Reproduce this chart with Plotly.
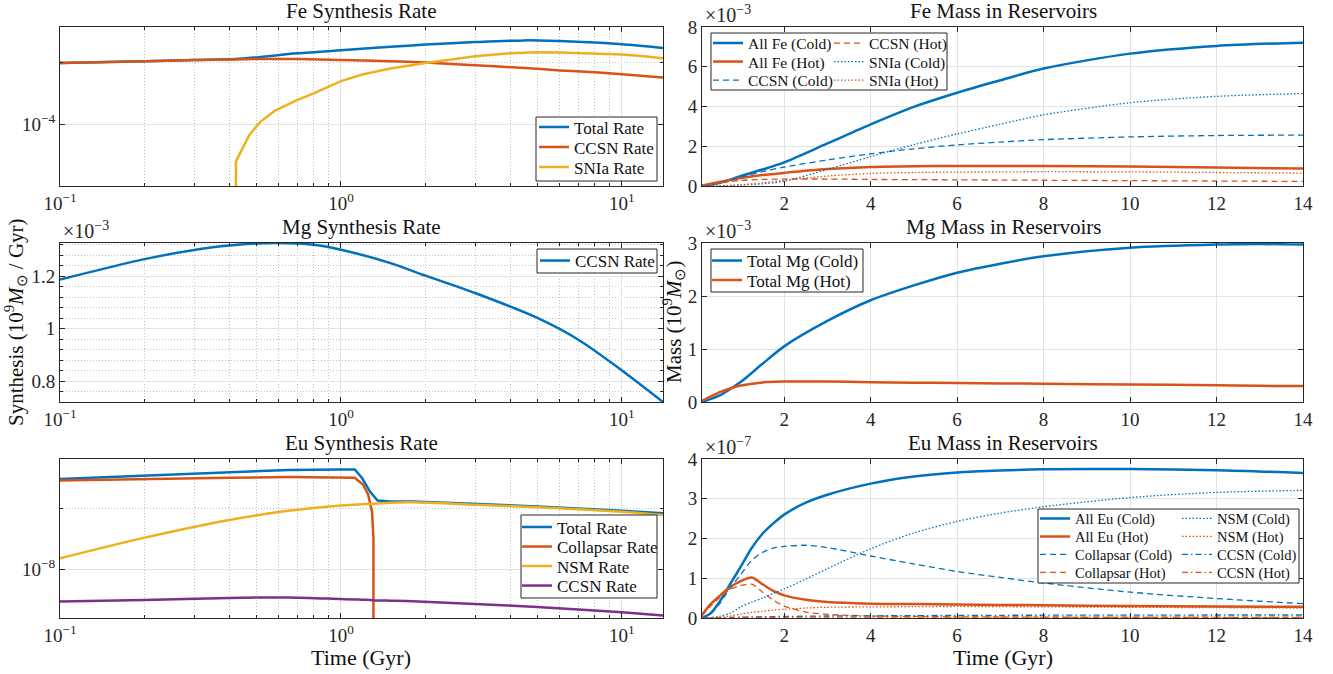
import math
import plotly.graph_objects as go

# ---------------- data ----------------
# Fe synthesis rate (10^9 Msun / Gyr), log-log panel
fe_rate_t = [0.1, 0.2, 0.3, 0.42, 0.5, 0.7, 1.0, 1.5, 2, 3, 4.5, 6, 8, 10, 14]
fe_rate_total = [2.0e-4, 2.04e-4, 2.07e-4, 2.09e-4, 2.13e-4, 2.23e-4, 2.31e-4, 2.40e-4,
                 2.46e-4, 2.53e-4, 2.58e-4, 2.56e-4, 2.52e-4, 2.47e-4, 2.37e-4]
fe_rate_ccsn = [2.0e-4, 2.04e-4, 2.07e-4, 2.08e-4, 2.09e-4, 2.09e-4, 2.07e-4, 2.04e-4,
                2.01e-4, 1.95e-4, 1.89e-4, 1.84e-4, 1.80e-4, 1.76e-4, 1.70e-4]
fe_snia_t = [0.421, 0.423, 0.472, 0.516, 0.583, 0.7, 0.8, 1.0, 1.2, 1.5, 2, 2.5, 3, 4, 5, 6,
             8, 10, 12, 14]
fe_rate_snia = [1e-7, 6.6e-5, 8.9e-5, 1.03e-4, 1.17e-4, 1.32e-4, 1.42e-4, 1.63e-4, 1.76e-4,
                1.88e-4, 2.0e-4, 2.09e-4, 2.16e-4, 2.23e-4, 2.26e-4, 2.25e-4, 2.23e-4,
                2.20e-4, 2.16e-4, 2.11e-4]

# Mg synthesis rate (units of 1e-3)
mg_rate_t = [0.1, 0.2, 0.3, 0.4, 0.58, 0.8, 1.0, 1.5, 2, 3, 5, 7, 10, 14]
mg_rate_ccsn_e3 = [1.187, 1.265, 1.300, 1.317, 1.3265, 1.320, 1.301, 1.250, 1.202, 1.136,
                   1.041, 0.958, 0.841, 0.7208]

# Eu synthesis rate
eu_rate_t = [0.1, 0.2, 0.4, 0.65, 1.0, 1.12, 1.19, 1.27, 1.35, 1.5, 1.8, 3, 5, 10, 14]
eu_rate_total = [2.79e-8, 2.90e-8, 3.02e-8, 3.09e-8, 3.11e-8, 3.11e-8, 2.81e-8, 2.41e-8,
                 2.18e-8, 2.16e-8, 2.16e-8, 2.10e-8, 2.04e-8, 1.94e-8, 1.89e-8]
eu_coll_t = [0.1, 0.2, 0.4, 0.65, 1.0, 1.12, 1.2, 1.25, 1.29, 1.305, 1.306]
eu_rate_coll = [2.74e-8, 2.79e-8, 2.83e-8, 2.85e-8, 2.84e-8, 2.83e-8, 2.61e-8, 2.33e-8,
                1.92e-8, 1.42e-8, 1e-12]
eu_rate_nsm = [1.13e-8, 1.43e-8, 1.75e-8, 1.94e-8, 2.06e-8, 2.08e-8, 2.09e-8, 2.10e-8,
               2.11e-8, 2.13e-8, 2.14e-8, 2.08e-8, 2.02e-8, 1.92e-8, 1.85e-8]
eu_rate_ccsn = [6.92e-9, 7.03e-9, 7.20e-9, 7.24e-9, 7.11e-9, 7.08e-9, 7.06e-9, 7.03e-9,
                7.00e-9, 6.98e-9, 6.94e-9, 6.72e-9, 6.50e-9, 6.11e-9, 5.90e-9]

# Fe mass in reservoirs (units of 1e-3)
fe_mass_t = [0.1, 0.5, 1, 1.5, 2, 3, 4, 5, 6, 7, 8, 10, 12, 14]
fe_all_cold = [0, 0.15, 0.5, 0.83, 1.19, 2.14, 3.10, 3.98, 4.69, 5.32, 5.91, 6.66, 7.05, 7.21]
fe_all_hot = [0.03, 0.2, 0.4, 0.55, 0.66, 0.85, 0.96, 1.0, 1.01, 1.01, 1.01, 0.98, 0.93, 0.88]
fe_ccsn_cold = [0, 0.15, 0.45, 0.72, 0.95, 1.31, 1.62, 1.87, 2.07, 2.21, 2.33, 2.47, 2.54, 2.56]
fe_ccsn_hot = [0.02, 0.15, 0.28, 0.33, 0.35, 0.35, 0.33, 0.32, 0.31, 0.30, 0.29, 0.27, 0.25, 0.23]
fe_snia_cold = [0, 0, 0.05, 0.11, 0.24, 0.83, 1.48, 2.08, 2.62, 3.11, 3.58, 4.19, 4.51, 4.65]
fe_snia_hot = [0, 0, 0.06, 0.16, 0.28, 0.50, 0.63, 0.68, 0.70, 0.71, 0.72, 0.71, 0.68, 0.65]

# Mg mass in reservoirs (units of 1e-3)
mg_mass_t = [0.1, 0.5, 0.8, 1, 1.5, 2, 3, 4, 5, 6, 7, 8, 10, 12, 13, 14]
mg_cold = [0, 0.12, 0.27, 0.38, 0.72, 1.05, 1.53, 1.92, 2.20, 2.44, 2.61, 2.75, 2.91, 2.97,
           2.98, 2.97]
mg_hot = [0.02, 0.18, 0.27, 0.31, 0.37, 0.385, 0.385, 0.375, 0.365, 0.36, 0.35, 0.345, 0.33,
          0.315, 0.305, 0.30]

# Eu mass in reservoirs (units of 1e-7)
eu_mass_t = [0.1, 0.3, 0.5, 0.75, 1, 1.25, 1.5, 1.75, 2, 2.5, 3, 4, 5, 6, 7, 8, 10, 12, 14]
eu_all_cold = [0, 0.12, 0.40, 0.85, 1.30, 1.76, 2.12, 2.38, 2.60, 2.90, 3.10, 3.38, 3.56, 3.66,
               3.71, 3.74, 3.75, 3.72, 3.65]
eu_all_hot = [0.08, 0.35, 0.55, 0.78, 0.93, 1.02, 0.85, 0.68, 0.57, 0.46, 0.40, 0.36, 0.35,
              0.34, 0.33, 0.32, 0.30, 0.29, 0.28]
eu_coll_cold = [0, 0.10, 0.35, 0.75, 1.10, 1.45, 1.65, 1.76, 1.80, 1.83, 1.77, 1.56, 1.36, 1.17,
                1.02, 0.88, 0.65, 0.49, 0.36]
eu_coll_hot = [0.05, 0.30, 0.50, 0.72, 0.82, 0.85, 0.65, 0.45, 0.30, 0.15, 0.09, 0.05, 0.04,
               0.03, 0.025, 0.02, 0.015, 0.012, 0.01]
eu_nsm_cold = [0, 0.01, 0.04, 0.12, 0.28, 0.40, 0.50, 0.62, 0.73, 0.98, 1.24, 1.74, 2.14, 2.43,
               2.64, 2.80, 3.03, 3.16, 3.21]
eu_nsm_hot = [0, 0.005, 0.02, 0.05, 0.10, 0.14, 0.17, 0.20, 0.22, 0.25, 0.27, 0.28, 0.285,
              0.29, 0.285, 0.28, 0.27, 0.26, 0.25]
eu_ccsn_cold = [0, 0.003, 0.008, 0.013, 0.02, 0.025, 0.03, 0.035, 0.04, 0.045, 0.05, 0.055,
                0.06, 0.065, 0.068, 0.07, 0.073, 0.075, 0.075]
eu_ccsn_hot = [0, 0.003, 0.008, 0.01, 0.015, 0.017, 0.018, 0.019, 0.02, 0.02, 0.02, 0.02, 0.02,
               0.02, 0.02, 0.02, 0.02, 0.02, 0.02]

# tick labels
log_x_ticks = [0.1, 1, 10]
log_x_ticktext = ['10<sup>\u22121</sup>', '10<sup>0</sup>', '10<sup>1</sup>']
lin_x_ticks = [2, 4, 6, 8, 10, 12, 14]

# ---------------- styling ----------------
W, H = 1333, 674
BLUE, ORANGE, YELLOW, PURPLE = '#0072BD', '#D95319', '#EDB120', '#7E2F8E'
FONT = 'Liberation Serif, Times New Roman, serif'
INK = '#262626'
TEXT = '#111111'
GRID = '#e3e3e3'
MINOR = '#c4c4c4'
MINOR_DASH = '1px,2px'
TW, TH = 2.5, 1.3
DASH, DOT, DASHDOT = '6px,4px', '1.5px,2px', '6px,3px,1.5px,3px'


def px(x):
    return x / W


def py(y):
    return 1 - y / H


LEFT = [px(60), px(663)]
RIGHT = [px(702), px(1303)]
ROWS = [[py(186), py(27)], [py(402), py(243)], [py(618), py(459)]]


def axis(domain, anchor, **kw):
    d = dict(domain=domain, anchor=anchor, showline=True, linecolor=INK, linewidth=1,
             mirror='ticks', ticks='inside', ticklen=5, tickcolor=INK, showgrid=True,
             gridcolor=GRID, gridwidth=1, zeroline=False, automargin=False,
             tickfont=dict(family=FONT, size=19, color=INK))
    d.update(kw)
    return d


minor_x = [m * 10 ** e for e in (-1, 0, 1) for m in range(2, 10) if m * 10 ** e <= 14]


def logx(anchor):
    return axis(LEFT, anchor, type='log', range=[math.log10(0.1), math.log10(14)],
                tickmode='array', tickvals=log_x_ticks, ticktext=log_x_ticktext,
                minor=dict(tickmode='array', tickvals=minor_x, ticks='inside', ticklen=3,
                           tickcolor=INK, showgrid=True, gridcolor=MINOR,
                           griddash=MINOR_DASH))


def linx(anchor):
    return axis(RIGHT, anchor, range=[0.1, 14], tickmode='array', tickvals=lin_x_ticks)


fig = go.Figure()
legends = {}


def line(x, y, name, color, width, xa, ya, pos, dash='solid', shape='spline'):
    """pos = (sample start x px, row centre y px, font size) of this entry's legend."""
    n = len(legends) + 1
    lid = 'legend' if n == 1 else 'legend%d' % n
    sx, sy, fs = pos
    legends[lid] = dict(x=px(sx - 5), y=py(sy), xanchor='left', yanchor='middle',
                        xref='paper', yref='paper', bgcolor='rgba(0,0,0,0)', borderwidth=0,
                        font=dict(family=FONT, size=fs, color=TEXT), itemwidth=30)
    fig.add_trace(go.Scatter(x=x, y=y, name=name, mode='lines', xaxis=xa, yaxis=ya,
                             legend=lid,
                             line=dict(color=color, width=width, dash=dash, shape=shape,
                                       smoothing=0.8 if shape == 'spline' else None)))


# Fe synthesis
line(fe_rate_t, fe_rate_total, 'Total Rate', BLUE, TW, 'x', 'y', (539, 127.5, 17))
line(fe_rate_t, fe_rate_ccsn, 'CCSN Rate', ORANGE, TW, 'x', 'y', (539, 147.5, 17))
line(fe_snia_t, fe_rate_snia, 'SNIa Rate', YELLOW, TW, 'x', 'y', (539, 167.5, 17),
     shape='linear')

# Fe mass
line(fe_mass_t, fe_all_cold, 'All Fe (Cold)', BLUE, TW, 'x2', 'y2', (713, 43.5, 15.5))
line(fe_mass_t, fe_all_hot, 'All Fe (Hot)', ORANGE, TW, 'x2', 'y2', (713, 62, 15.5))
line(fe_mass_t, fe_ccsn_cold, 'CCSN (Cold)', BLUE, TH, 'x2', 'y2', (713, 80.5, 15.5), DASH)
line(fe_mass_t, fe_ccsn_hot, 'CCSN (Hot)', ORANGE, TH, 'x2', 'y2', (834, 43.5, 15.5), DASH)
line(fe_mass_t, fe_snia_cold, 'SNIa (Cold)', BLUE, TH, 'x2', 'y2', (834, 62, 15.5), DOT)
line(fe_mass_t, fe_snia_hot, 'SNIa (Hot)', ORANGE, TH, 'x2', 'y2', (834, 80.5, 15.5), DOT)

# Mg synthesis
line(mg_rate_t, mg_rate_ccsn_e3, 'CCSN Rate', BLUE, TW, 'x3', 'y3', (540, 261, 17))

# Mg mass
line(mg_mass_t, mg_cold, 'Total Mg (Cold)', BLUE, TW, 'x4', 'y4', (712, 261, 17))
line(mg_mass_t, mg_hot, 'Total Mg (Hot)', ORANGE, TW, 'x4', 'y4', (712, 280.5, 17))

# Eu synthesis
line(eu_rate_t, eu_rate_total, 'Total Rate', BLUE, TW, 'x5', 'y5', (522, 527.5, 17),
     shape='linear')
line(eu_coll_t, eu_rate_coll, 'Collapsar Rate', ORANGE, TW, 'x5', 'y5', (522, 547, 17),
     shape='linear')
line(eu_rate_t, eu_rate_nsm, 'NSM Rate', YELLOW, TW, 'x5', 'y5', (522, 566.5, 17))
line(eu_rate_t, eu_rate_ccsn, 'CCSN Rate', PURPLE, TW, 'x5', 'y5', (522, 586, 17))

# Eu mass
line(eu_mass_t, eu_all_cold, 'All Eu (Cold)', BLUE, TW, 'x6', 'y6', (1040, 518.5, 14.5))
line(eu_mass_t, eu_all_hot, 'All Eu (Hot)', ORANGE, TW, 'x6', 'y6', (1040, 536.5, 14.5))
line(eu_mass_t, eu_coll_cold, 'Collapsar (Cold)', BLUE, TH, 'x6', 'y6', (1040, 554.5, 14.5),
     DASH)
line(eu_mass_t, eu_coll_hot, 'Collapsar (Hot)', ORANGE, TH, 'x6', 'y6', (1040, 572.5, 14.5),
     DASH)
line(eu_mass_t, eu_nsm_cold, 'NSM (Cold)', BLUE, TH, 'x6', 'y6', (1182, 518.5, 14.5), DOT)
line(eu_mass_t, eu_nsm_hot, 'NSM (Hot)', ORANGE, TH, 'x6', 'y6', (1182, 536.5, 14.5), DOT)
line(eu_mass_t, eu_ccsn_cold, 'CCSN (Cold)', BLUE, TH, 'x6', 'y6', (1182, 554.5, 14.5),
     DASHDOT)
line(eu_mass_t, eu_ccsn_hot, 'CCSN (Hot)', ORANGE, TH, 'x6', 'y6', (1182, 572.5, 14.5),
     DASHDOT)

layout = dict(
    width=W, height=H, margin=dict(l=0, r=0, t=0, b=0, pad=0, autoexpand=False),
    paper_bgcolor='white', plot_bgcolor='white', showlegend=True,
    font=dict(family=FONT, color=INK),
    xaxis=logx('y'),
    yaxis=axis(ROWS[0], 'x', type='log', range=[math.log10(5e-5), math.log10(3e-4)],
               tickmode='array', tickvals=[1e-4], ticktext=['10<sup>\u22124</sup>'],
               minor=dict(tickmode='array', tickvals=[2e-4], ticks='inside', ticklen=3,
                          tickcolor=INK, showgrid=True, gridcolor=MINOR,
                          griddash=MINOR_DASH)),
    xaxis2=linx('y2'),
    yaxis2=axis(ROWS[0], 'x2', range=[0, 8], tickmode='array', tickvals=[0, 2, 4, 6, 8]),
    xaxis3=logx('y3'),
    yaxis3=axis(ROWS[1], 'x3', range=[0.7208, 1.3265], tickmode='linear', tick0=0, dtick=0.2,
                minor=dict(tick0=0, dtick=0.04, ticks='inside', ticklen=3, tickcolor=INK,
                           showgrid=True, gridcolor=MINOR, griddash=MINOR_DASH)),
    xaxis4=linx('y4'),
    yaxis4=axis(ROWS[1], 'x4', range=[0, 3], tickmode='array', tickvals=[0, 1, 2, 3]),
    xaxis5=logx('y5'),
    yaxis5=axis(ROWS[2], 'x5', type='log', range=[math.log10(5.73e-9), math.log10(3.50e-8)],
                tickmode='array', tickvals=[1e-8], ticktext=['10<sup>\u22128</sup>'],
                minor=dict(tickmode='array', tickvals=[2e-8], ticks='inside', ticklen=3,
                           tickcolor=INK, showgrid=True, gridcolor=MINOR,
                           griddash=MINOR_DASH)),
    xaxis6=linx('y6'),
    yaxis6=axis(ROWS[2], 'x6', range=[0, 4], tickmode='array', tickvals=[0, 1, 2, 3, 4]),
)
layout.update(legends)
fig.update_layout(**layout)

# legend frames
for x0, y0, x1, y1 in [(536, 117, 657, 181), (537, 249, 657, 273), (521, 515, 657, 598),
                       (711, 33, 947, 90), (711, 249, 863, 292), (1038, 509, 1299, 583)]:
    fig.add_shape(type='rect', xref='paper', yref='paper', x0=px(x0), x1=px(x1),
                  y0=py(y1), y1=py(y0), line=dict(color=INK, width=1), fillcolor='white',
                  layer='above')

ann = []
TITLE_FONT = dict(family=FONT, size=21, color=TEXT)
for text, cx, cy in [('Fe Synthesis Rate', 361, 11), ('Fe Mass in Reservoirs', 1003, 11),
                     ('Mg Synthesis Rate', 361, 227), ('Mg Mass in Reservoirs', 1003, 227),
                     ('Eu Synthesis Rate', 361, 443), ('Eu Mass in Reservoirs', 1003, 443)]:
    ann.append(dict(text=text, x=px(cx), y=py(cy), xref='paper', yref='paper',
                    showarrow=False, font=TITLE_FONT, xanchor='center', yanchor='middle'))
for text, lx, cy in [('\u00d710<sup>\u22123</sup>', 61, 230), ('\u00d710<sup>\u22123</sup>', 703, 14),
                     ('\u00d710<sup>\u22123</sup>', 703, 230), ('\u00d710<sup>\u22127</sup>', 703, 446)]:
    ann.append(dict(text=text, x=px(lx), y=py(cy), xref='paper', yref='paper',
                    showarrow=False, font=dict(family=FONT, size=20, color=INK),
                    xanchor='left', yanchor='middle'))
for cx in (361, 1003):
    ann.append(dict(text='Time (Gyr)', x=px(cx), y=py(657), xref='paper', yref='paper',
                    showarrow=False, font=dict(family=FONT, size=22, color=TEXT),
                    xanchor='center', yanchor='middle'))
ann.append(dict(text='Synthesis (10<sup>9</sup><i>M</i><sub>\u2299</sub> / Gyr)', x=px(16),
                y=py(322), xref='paper', yref='paper', showarrow=False, textangle=-90,
                font=dict(family=FONT, size=21, color=TEXT), xanchor='center',
                yanchor='middle'))
ann.append(dict(text='Mass (10<sup>9</sup><i>M</i><sub>\u2299</sub>)', x=px(674),
                y=py(322), xref='paper', yref='paper', showarrow=False, textangle=-90,
                font=dict(family=FONT, size=21, color=TEXT), xanchor='center',
                yanchor='middle'))
fig.update_layout(annotations=ann)

fig.write_html('out.html')
